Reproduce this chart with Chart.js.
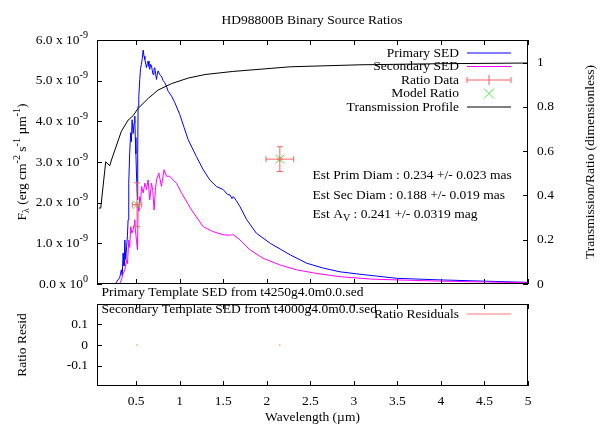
<!DOCTYPE html>
<html><head><meta charset="utf-8">
<script src="https://cdn.jsdelivr.net/npm/chart.js@4.4.1/dist/chart.umd.min.js"></script>
<style>
html,body{margin:0;padding:0;background:#fff;width:608px;height:426px;overflow:hidden;}
#c1{position:absolute;left:0;top:0;}
#c2{position:absolute;left:0;top:300px;}
</style></head><body>
<canvas id="c1" width="608" height="300"></canvas>
<canvas id="c2" width="608" height="126"></canvas>
<script>
const FONT = '"Liberation Serif","Times New Roman",serif';
const FS = 13.5;
const FLUX_UNIT = 1e-9;

const titleText = 'HD98800B Binary Source Ratios';

// Primary SED: wavelength (µm) and flux (x 1e-9 erg cm^-2 s^-1 µm^-1)
const primaryWave = [0.26,0.29,0.31,0.33,0.34,0.35,0.36,0.37,0.38,0.39,0.40,0.407,0.415,0.425,0.437,0.445,0.453,0.465,0.476,0.484,0.49,0.497,0.503,0.51,0.515,0.52,0.522,0.53,0.541,0.55,0.56,0.57,0.58,0.59,0.60,0.61,0.618,0.627,0.637,0.647,0.656,0.666,0.676,0.685,0.694,0.704,0.714,0.724,0.733,0.742,0.752,0.77,0.79,0.81,0.829,0.85,0.867,0.906,0.944,1.0,1.05,1.097,1.19,1.27,1.346,1.42,1.5,1.55,1.577,1.6,1.615,1.65,1.69,1.77,1.88,2.04,2.27,2.46,2.65,2.84,3.07,3.49,4.0,4.5,5.0];
const primaryFlux = [0,0.1,0.15,0.35,0.2,0.76,0.45,1.08,0.6,0.92,1.2,1.58,2.48,3.2,3.72,3.5,4.04,3.7,3.96,4.13,3.6,3.2,2.73,2.3,2.07,3.2,4.37,4.6,5.03,5.3,5.40,5.55,5.75,5.6,5.52,5.4,5.32,5.42,5.48,5.35,5.28,5.4,5.36,5.25,5.15,5.28,5.32,5.15,5.03,5.15,5.24,5.15,5.11,5.0,4.95,4.85,4.74,4.62,4.46,4.17,3.85,3.55,3.14,2.81,2.56,2.40,2.32,2.2,2.19,2.1,2.15,2.05,1.91,1.58,1.25,1.00,0.715,0.51,0.39,0.30,0.24,0.14,0.10,0.07,0.04];

// Secondary SED
const secondaryWave = [0.31,0.33,0.35,0.37,0.39,0.40,0.415,0.425,0.437,0.45,0.464,0.475,0.484,0.49,0.503,0.515,0.522,0.53,0.541,0.55,0.561,0.58,0.60,0.618,0.637,0.656,0.676,0.69,0.706,0.72,0.733,0.76,0.79,0.82,0.848,0.886,0.924,0.963,1.02,1.136,1.27,1.38,1.5,1.56,1.615,1.69,1.806,1.96,2.15,2.34,2.57,2.84,3.2,3.5,4.0,4.5,5.0];
const secondaryFlux = [0,0.1,0.26,0.35,0.59,0.5,1.08,0.9,1.41,1.25,1.33,1.45,1.58,1.35,1.08,0.84,1.91,1.8,2.15,2.0,2.40,2.24,2.48,2.32,2.56,2.07,2.48,2.3,1.82,2.3,2.56,2.73,2.40,2.81,2.65,2.65,2.56,2.48,2.24,1.82,1.41,1.29,1.21,1.2,1.21,1.09,0.84,0.63,0.47,0.35,0.26,0.18,0.12,0.10,0.07,0.05,0.03];

// Transmission profile (dimensionless)
const transWave = [0.07,0.093,0.15,0.196,0.216,0.33,0.407,0.464,0.522,0.637,0.752,0.906,1.097,1.29,1.61,2.27,3.07,4.0,5.0];
const transValue = [0.343,0.343,0.552,0.534,0.56,0.69,0.74,0.76,0.793,0.838,0.876,0.905,0.93,0.946,0.96,0.981,0.99,0.995,0.998];

// Ratio data with errors, model ratio, residuals
const ratioWave = [0.51, 2.15];
const ratioValue = [0.358, 0.564];
const ratioWaveErr = [0.054, 0.159];
const ratioValueErr = [0.099, 0.056];
const modelWave = [0.51, 2.15];
const modelRatio = [0.358, 0.564];
const residWave = [0.51, 2.15];
const residValue = [0, 0];

// Tick values
const xTicks = [0.5,1,1.5,2,2.5,3,3.5,4,4.5,5];
const fluxTicks = [0,1,2,3,4,5,6];
const ratioTicks = [0,0.2,0.4,0.6,0.8,1];
const residTicks = [-0.1,0,0.1];

const legendLabels = ['Primary SED','Secondary SED','Ratio Data','Model Ratio','Transmission Profile'];
const noteLines = [
  [{t:'Est Prim Diam : 0.234 +/- 0.023 mas'}],
  [{t:'Est Sec Diam : 0.188 +/- 0.019 mas'}],
  [{t:'Est A'},{t:'V',sub:true},{t:' : 0.241 +/- 0.0319 mag'}]
];
const primTemplate = 'Primary Template SED from t4250g4.0m0.0.sed';
const secTemplate = 'Secondary Template SED from t4000g4.0m0.0.sed';

const C_PRIMARY = '#0000ff', C_SECONDARY = '#ff00ff', C_RATIO = 'rgb(240,100,100)',
      C_MODEL = 'rgb(80,225,80)', C_TRANS = '#000000', C_RESID = 'rgb(255,120,120)';

function pts(xs, ys, f){ return xs.map((x,i)=>({x:x, y:ys[i]*(f||1)})); }
function fnt(sz){ return sz+'px '+FONT; }
function richWidth(ctx, segs, size){
  let w=0;
  for(const s of segs){ ctx.font = fnt((s.sup||s.sub)?size*0.75:size); w += ctx.measureText(s.t).width; }
  return w;
}
function drawRich(ctx, segs, x, y, size, align){
  const w = richWidth(ctx, segs, size);
  let cx = align==='right' ? x-w : align==='center' ? x-w/2 : x;
  ctx.textBaseline='middle'; ctx.textAlign='left'; ctx.fillStyle='#000';
  for(const s of segs){
    const sz = (s.sup||s.sub)?size*0.75:size;
    ctx.font = fnt(sz);
    const dy = s.sup ? -size*0.38 : s.sub ? size*0.3 : 0;
    ctx.fillText(s.t, cx, y+dy);
    cx += ctx.measureText(s.t).width;
  }
}
function drawRotated(ctx, segs, x, y, size){
  ctx.save(); ctx.translate(x,y); ctx.rotate(-Math.PI/2);
  drawRich(ctx, segs, 0, 0, size, 'center'); ctx.restore();
}
function line(ctx,x1,y1,x2,y2){ ctx.beginPath(); ctx.moveTo(x1,y1); ctx.lineTo(x2,y2); ctx.stroke(); }
const TL = 5;
function frameAndTicks(chart){
  const ctx = chart.ctx, a = chart.chartArea;
  ctx.save();
  ctx.strokeStyle='#000'; ctx.lineWidth=1;
  ctx.strokeRect(a.left+0.5, a.top+0.5, a.right-a.left-1, a.bottom-a.top-1);
  const xs = chart.scales.x;
  for(const t of xs.ticks){
    const p = Math.round(xs.getPixelForValue(t.value))+0.5;
    line(ctx,p,a.bottom,p,a.bottom-TL);
    line(ctx,p,a.top,p,a.top+TL);
  }
  const ys = chart.scales.y;
  for(const t of ys.ticks){
    const p = Math.round(ys.getPixelForValue(t.value))+0.5;
    line(ctx,a.left,p,a.left+TL,p);
  }
  if(chart.scales.y2){
    const y2 = chart.scales.y2;
    for(const t of y2.ticks){
      const p = Math.round(y2.getPixelForValue(t.value))+0.5;
      line(ctx,a.right,p,a.right-TL,p);
    }
  }
  ctx.restore();
}
function errBar(ctx, cx, cy, x1, x2, y1, y2, cap){
  line(ctx,x1,cy,x2,cy); line(ctx,cx,y1,cx,y2);
  line(ctx,x1,cy-cap,x1,cy+cap); line(ctx,x2,cy-cap,x2,cy+cap);
  line(ctx,cx-cap,y1,cx+cap,y1); line(ctx,cx-cap,y2,cx+cap,y2);
}

const topPlugin = {
  id:'topDecor',
  afterDatasetsDraw(chart){
    const ctx = chart.ctx, xs = chart.scales.x, y2 = chart.scales.y2;
    ctx.save(); ctx.strokeStyle = C_RATIO; ctx.lineWidth = 1;
    ratioWave.forEach((w,i)=>{
      const cx = xs.getPixelForValue(w), cy = y2.getPixelForValue(ratioValue[i]);
      errBar(ctx, cx, cy, xs.getPixelForValue(w-ratioWaveErr[i]), xs.getPixelForValue(w+ratioWaveErr[i]),
             y2.getPixelForValue(ratioValue[i]+ratioValueErr[i]), y2.getPixelForValue(ratioValue[i]-ratioValueErr[i]), 3);
    });
    ctx.restore();
  },
  afterDraw(chart){
    const ctx = chart.ctx, a = chart.chartArea, ys = chart.scales.y;
    frameAndTicks(chart);
    ctx.save();
    drawRich(ctx, [{t:titleText}], 312, 20, FS, 'center');
    for(const t of ys.ticks){
      const v = t.value/FLUX_UNIT;
      drawRich(ctx, [{t:v.toFixed(1)+' x 10'},{t: v===0?'0':'-9', sup:true}], 88, ys.getPixelForValue(t.value), FS, 'right');
    }
    drawRotated(ctx, [{t:'F'},{t:'λ',sub:true},{t:' (erg cm'},{t:'-2',sup:true},{t:' s'},{t:'-1',sup:true},{t:' µm'},{t:'-1',sup:true},{t:')'}], 22, (a.top+a.bottom)/2, FS);
    drawRotated(ctx, [{t:'Transmission/Ratio (dimensionless)'}], 590, (a.top+a.bottom)/2, FS);
    const rows = [53,66.5,80,93.5,107];
    const lx1 = 467, lx2 = 511, lc = 489;
    legendLabels.forEach((lab,i)=>{
      const y = rows[i];
      drawRich(ctx, [{t:lab}], 459, y, FS, 'right');
      const yy = y;
      ctx.lineWidth = 1;
      if(i===0){ ctx.strokeStyle=C_PRIMARY; line(ctx,lx1,yy,lx2,yy); }
      if(i===1){ ctx.strokeStyle=C_SECONDARY; line(ctx,lx1,yy,lx2,yy); }
      if(i===2){ ctx.strokeStyle=C_RATIO; line(ctx,lx1,yy,lx2,yy); line(ctx,lx1,yy-3,lx1,yy+3); line(ctx,lx2,yy-3,lx2,yy+3); line(ctx,lc,yy-5,lc,yy+5); }
      if(i===3){ ctx.strokeStyle=C_MODEL; line(ctx,lc-5,yy-5,lc+5,yy+5); line(ctx,lc-5,yy+5,lc+5,yy-5); }
      if(i===4){ ctx.strokeStyle=C_TRANS; line(ctx,lx1,yy,lx2,yy); }
    });
    const noteY = [175,195,214];
    noteLines.forEach((segs,i)=> drawRich(ctx, segs, 312.5, noteY[i], FS, 'left'));
    drawRich(ctx, [{t:primTemplate}], 101.5, 292.5, FS, 'left');
    ctx.restore();
  }
};

const botPlugin = {
  id:'botDecor',
  afterDraw(chart){
    const ctx = chart.ctx, a = chart.chartArea;
    frameAndTicks(chart);
    ctx.save();
    drawRich(ctx, [{t:secTemplate}], 101.5, 9.5, FS, 'left');
    drawRich(ctx, [{t:'Ratio Residuals'}], 459, 14, FS, 'right');
    ctx.strokeStyle = C_RESID; ctx.lineWidth = 1; line(ctx,467,14,511,14);
    drawRotated(ctx, [{t:'Ratio Resid'}], 22, (a.top+a.bottom)/2, FS);
    drawRich(ctx, [{t:'Wavelength (µm)'}], (a.left+a.right)/2, 117, FS, 'center');
    ctx.restore();
  }
};

const tickFont = {family: FONT, size: FS};
const noGrid = {display:false, drawTicks:false};

new Chart(document.getElementById('c1'), {
  type:'scatter',
  data:{datasets:[
    {label:legendLabels[0], data:pts(primaryWave, primaryFlux, FLUX_UNIT), yAxisID:'y', showLine:true, borderColor:C_PRIMARY, borderWidth:1, pointRadius:0, order:4},
    {label:legendLabels[1], data:pts(secondaryWave, secondaryFlux, FLUX_UNIT), yAxisID:'y', showLine:true, borderColor:C_SECONDARY, borderWidth:1, pointRadius:0, order:3},
    {label:legendLabels[2], data:pts(ratioWave, ratioValue), yAxisID:'y2', showLine:false, pointStyle:'cross', pointRadius:3, borderColor:C_RATIO, borderWidth:1, order:2},
    {label:legendLabels[3], data:pts(modelWave, modelRatio), yAxisID:'y2', showLine:false, pointStyle:'crossRot', pointRadius:6, borderColor:C_MODEL, borderWidth:1, order:1},
    {label:legendLabels[4], data:pts(transWave, transValue), yAxisID:'y2', showLine:true, borderColor:C_TRANS, borderWidth:1, pointRadius:0, order:0}
  ]},
  options:{
    responsive:false, animation:false, devicePixelRatio:1,
    layout:{padding:{top:40,left:0,right:0,bottom:0}},
    plugins:{legend:{display:false}, tooltip:{enabled:false}, title:{display:false}},
    scales:{
      x:{type:'linear', min:0.05, max:5, position:'bottom', grid:noGrid, border:{display:false}, ticks:{display:false},
         afterBuildTicks:s=>{s.ticks = xTicks.map(v=>({value:v}));},
         afterFit:s=>{s.height=16; s.paddingLeft=0; s.paddingRight=0;}},
      y:{type:'linear', min:0, max:6*FLUX_UNIT, position:'left', grid:noGrid, border:{display:false}, ticks:{display:false},
         afterBuildTicks:s=>{s.ticks = fluxTicks.map(v=>({value:v*FLUX_UNIT}));},
         afterFit:s=>{s.width=97; s.paddingTop=0; s.paddingBottom=0;}},
      y2:{type:'linear', min:0, max:1.102, position:'right', grid:noGrid, border:{display:false},
         ticks:{display:true, padding:9, color:'#000', font:tickFont, callback:v=>String(v)},
         afterBuildTicks:s=>{s.ticks = ratioTicks.map(v=>({value:v}));},
         afterFit:s=>{s.width=80; s.paddingTop=0; s.paddingBottom=0;}}
    }
  },
  plugins:[topPlugin]
});

new Chart(document.getElementById('c2'), {
  type:'scatter',
  data:{datasets:[
    {label:'Ratio Residuals', data:pts(residWave, residValue), showLine:false, pointStyle:'circle', pointRadius:0.8, borderWidth:0, backgroundColor:C_RESID}
  ]},
  options:{
    responsive:false, animation:false, devicePixelRatio:1,
    layout:{padding:{top:1,left:0,right:80,bottom:0}},
    plugins:{legend:{display:false}, tooltip:{enabled:false}},
    scales:{
      x:{type:'linear', min:0.05, max:5, position:'bottom', grid:noGrid, border:{display:false},
         ticks:{display:true, padding:7, color:'#000', font:tickFont, maxRotation:0, autoSkip:false, callback:v=>String(v)},
         afterBuildTicks:s=>{s.ticks = xTicks.map(v=>({value:v}));},
         afterFit:s=>{s.height=40; s.paddingLeft=0; s.paddingRight=0;}},
      y:{type:'linear', min:-0.2, max:0.2, position:'left', grid:noGrid, border:{display:false},
         ticks:{display:true, padding:9, color:'#000', font:tickFont, callback:v=>String(v)},
         afterBuildTicks:s=>{s.ticks = residTicks.map(v=>({value:v}));},
         afterFit:s=>{s.width=97; s.paddingTop=0; s.paddingBottom=0;}}
    }
  },
  plugins:[botPlugin]
});
</script></body></html>
